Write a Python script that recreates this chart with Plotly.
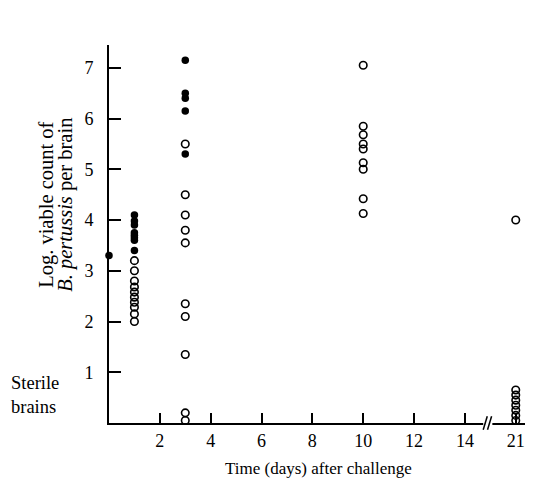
import plotly.graph_objects as go

# ---- data (log viable count per brain) ----
day0_filled = [3.3]
day1_filled = [4.1, 3.98, 3.9, 3.75, 3.7, 3.65, 3.6, 3.4]
day1_open = [3.2, 3.0, 2.8, 2.68, 2.58, 2.48, 2.38, 2.28, 2.15, 2.0]
day3_filled = [7.15, 6.5, 6.4, 6.15, 5.3]
day3_open = [5.5, 4.5, 4.1, 3.8, 3.55, 2.35, 2.1, 1.35, 0.2, 0.05]
day10_open = [7.05, 5.85, 5.68, 5.5, 5.4, 5.13, 5.0, 4.42, 4.13]
day21_open = [4.0, 0.65, 0.55, 0.45, 0.35, 0.25, 0.15, 0.05]

x_tick_vals = [2, 4, 6, 8, 10, 12, 14, 16]
x_tick_text = ["2", "4", "6", "8", "10", "12", "14", "21"]
y_tick_vals = [1, 2, 3, 4, 5, 6, 7]
DAY21_POS = 16  # compressed position of day 21 after the axis break

FONT = "Liberation Serif, Times New Roman, serif"

filled = dict(symbol="circle", size=7.5, color="black", line=dict(width=0))
opened = dict(symbol="circle-open", size=7.5, color="black", line=dict(width=1.6))

fig = go.Figure()

def add(day, vals, marker):
    fig.add_trace(go.Scatter(x=[day] * len(vals), y=vals, mode="markers",
                             marker=marker, cliponaxis=False, showlegend=False,
                             hoverinfo="skip"))

add(0, day0_filled, filled)
add(1, day1_open, opened)
add(1, day1_filled, filled)
add(3, day3_open, opened)
add(3, day3_filled, filled)
add(10, day10_open, opened)
add(DAY21_POS, day21_open, opened)

# page body has an 8px margin, so the figure is sized 8px smaller
fig.update_layout(
    width=525, height=480,
    margin=dict(l=101, r=2, t=37, b=65),
    paper_bgcolor="white", plot_bgcolor="white",
    font=dict(family=FONT, size=16, color="black"),
    xaxis=dict(range=[0, 16.6], tickvals=x_tick_vals, ticktext=x_tick_text,
               ticks="inside", ticklen=10, tickwidth=1.5, tickcolor="black",
               showline=True, linecolor="black", linewidth=2,
               showgrid=False, zeroline=False, automargin=False,
               ticklabelstandoff=0,
               tickfont=dict(family=FONT, size=18)),
    yaxis=dict(range=[0, 7.45], tickvals=y_tick_vals,
               ticks="inside", ticklen=12, tickwidth=1.5, tickcolor="black",
               showline=True, linecolor="black", linewidth=2,
               showgrid=False, zeroline=False, automargin=False,
               ticklabelstandoff=10,
               tickfont=dict(family=FONT, size=18)),
)

# axis break on x axis
fig.add_shape(type="rect", xref="x", yref="paper", x0=14.72, x1=15.08,
              y0=-0.012, y1=0.012, fillcolor="white", line=dict(width=0), layer="above")
for xb in (14.78, 14.95):
    fig.add_shape(type="line", xref="x", yref="paper", x0=xb - 0.06, x1=xb + 0.1,
                  y0=-0.018, y1=0.018, line=dict(color="black", width=1.5), layer="above")

# y-axis title (two rotated lines)
fig.add_annotation(xref="paper", yref="paper", x=-0.147, y=0.577, xanchor="center",
                   yanchor="middle", textangle=-90, showarrow=False,
                   text="Log. viable count of", font=dict(family=FONT, size=20.5))
fig.add_annotation(xref="paper", yref="paper", x=-0.102, y=0.577, xanchor="center",
                   yanchor="middle", textangle=-90, showarrow=False,
                   text="<i>B. pertussis</i> per brain", font=dict(family=FONT, size=20.5))
fig.add_annotation(xref="paper", yref="paper", x=-0.238, y=0.074, xanchor="left",
                   yanchor="middle", showarrow=False,
                   text="Sterile<br>brains", font=dict(family=FONT, size=18.5), align="left")
fig.add_annotation(xref="paper", yref="paper", x=0.497, y=-0.09, xanchor="center",
                   yanchor="top", showarrow=False,
                   text="Time (days) after challenge", font=dict(family=FONT, size=17))

fig.write_html("out.html")
